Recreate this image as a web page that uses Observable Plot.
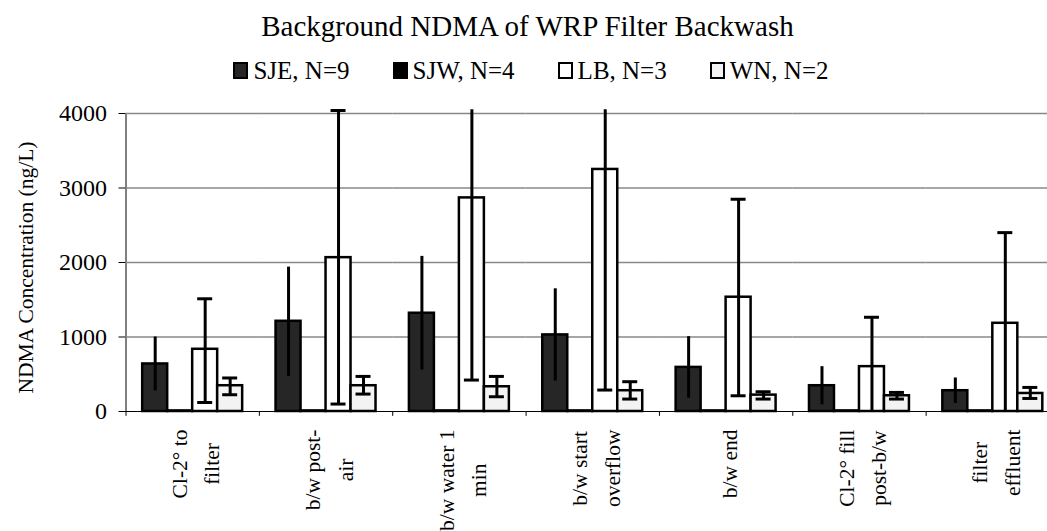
<!DOCTYPE html>
<html>
<head>
<meta charset="utf-8">
<script src="https://cdn.jsdelivr.net/npm/d3@7"></script>
<script src="https://cdn.jsdelivr.net/npm/@observablehq/plot@0.6"></script>
<style>
  html, body { margin: 0; padding: 0; background: #fff; }
  body { width: 1047px; height: 531px; overflow: hidden; font-family: "Liberation Serif", serif; color: #000; }
  #title { height: 41px; padding-top: 4px; padding-left: 8px; line-height: 45px; font-size: 29px; text-align: center; white-space: nowrap; }
  #legend { height: 42px; padding-top: 3px; padding-left: 15px; line-height: 45px; font-size: 25px; display: flex; justify-content: center; gap: 43px; white-space: nowrap; }
  #legend .item { display: inline-block; }
  #legend .sw { display: inline-block; width: 15px; height: 17px; box-sizing: border-box; border: 2px solid #000; vertical-align: baseline; margin-right: 5px; }
  svg { display: block; }
  svg text { font-family: "Liberation Serif", serif !important; }
</style>
</head>
<body>
<div id="title">Background NDMA of WRP Filter Backwash</div>
<div id="legend"></div>
<script>
// ---- data ----
const categories = ["Cl-2° to\nfilter", "b/w post-\nair", "b/w water 1\nmin", "b/w start\noverflow", "b/w end", "Cl-2° fill\npost-b/w", "filter\neffluent"];
const seriesNames = ["SJE", "SJW", "LB", "WN"];
const seriesN = [9, 4, 3, 2];
const seriesColors = ["#262626", "#000000", "#ffffff", "#f3f3f3"];
const seriesCaps = [false, false, true, true];

const sjeMean = [638, 1211, 1319, 1028, 592, 346, 279];
const sjeLow  = [276, 470, 556, 409, 179, 90, 108];
const sjeHigh = [1000, 1938, 2082, 1647, 1005, 602, 450];

const sjwMean = [8, 8, 8, 8, 8, 8, 8];

const lbMean = [835, 2065, 2867, 3249, 1534, 602, 1184];
const lbLow  = [121, 100, 422, 288, 211, 0, 0];
const lbHigh = [1513, 4040, 4050, 4050, 2849, 1265, 2401];

const wnMean = [346, 346, 332, 279, 220, 211, 242];
const wnLow  = [225, 234, 198, 167, 167, 167, 175];
const wnHigh = [450, 471, 471, 400, 265, 256, 323];

const yTicks = [0, 1000, 2000, 3000, 4000];
const gridTicks = [1000, 2000, 3000, 4000];
const yTitle = "NDMA Concentration (ng/L)";
const clipTop = 4050; // error bars running past the plot top (no cap shown)

// ---- tidy table ----
const means = [sjeMean, sjwMean, lbMean, wnMean];
const lows = [sjeLow, null, lbLow, wnLow];
const highs = [sjeHigh, null, lbHigh, wnHigh];
const rows = [];
seriesNames.forEach((s, si) => {
  categories.forEach((c, ci) => {
    rows.push({
      cat: c, series: s, value: means[si][ci],
      lo: lows[si] ? lows[si][ci] : null,
      hi: highs[si] ? highs[si][ci] : null,
      cap: seriesCaps[si]
    });
  });
});
const errRows = rows.filter(d => d.hi != null);
const capTop = errRows.filter(d => d.cap && d.hi < clipTop);
const capBottom = errRows.filter(d => d.cap && d.lo > 0);

// ---- legend (HTML) ----
const legend = document.getElementById("legend");
seriesNames.forEach((s, i) => {
  const item = document.createElement("span");
  item.className = "item";
  const sw = document.createElement("span");
  sw.className = "sw";
  sw.style.background = seriesColors[i];
  item.appendChild(sw);
  item.appendChild(document.createTextNode(`${s}, N=${seriesN[i]}`));
  legend.appendChild(item);
});

// ---- layout ----
const FONT = '"Liberation Serif", serif';
const W = 1047, H = 441;
const mL = 125.5, mR = -12, mT = 23, mB = 120;
const padOuter = 0.668;
const facetBand = (W - mL - mR) / categories.length;
const step = facetBand / (seriesNames.length + 2 * padOuter);
const edgeDx = -(padOuter * step + step / 2);

// category labels: lines centred on each other, block starting just below the axis
const labelSize = 21.5;
const labelGap = 18; // px from axis to the top of each label block
const ctx = document.createElement("canvas").getContext("2d");
ctx.font = `${labelSize}px "Liberation Serif"`;
const labelLen = categories.map(c => d3.max(c.split("\n"), l => ctx.measureText(l).width));

const labelMarks = categories.map((c, i) =>
  Plot.text([c], {
    fx: d => d, text: d => d, frameAnchor: "bottom", rotate: -90,
    textAnchor: "middle", lineAnchor: "middle", lineHeight: 1.52,
    fontSize: labelSize, fontFamily: FONT, dy: labelGap + labelLen[i] / 2
  })
);

const chart = Plot.plot({
  width: W, height: H,
  marginTop: mT, marginBottom: mB, marginLeft: mL, marginRight: mR,
  style: { fontFamily: FONT, fontSize: "24px", color: "#000", background: "transparent" },
  fx: { domain: categories, padding: 0, round: false, axis: null, label: null },
  x: { domain: seriesNames, paddingInner: 0, paddingOuter: padOuter, round: false, axis: null, label: null },
  y: { domain: [0, 4000], ticks: yTicks, tickFormat: d => String(d), tickSize: 7, tickPadding: 12, label: null, line: true },
  color: { domain: seriesNames, range: seriesColors },
  marks: [
    Plot.ruleY(gridTicks, { stroke: "#888", strokeWidth: 1.3 }),
    Plot.barY(rows, { fx: "cat", x: "series", y: "value", fill: "series", stroke: "#000", strokeWidth: 2.5 }),
    Plot.ruleX(errRows, { fx: "cat", x: "series", y1: "lo", y2: "hi", stroke: "#000", strokeWidth: 3 }),
    Plot.tickY(capTop, { fx: "cat", x: "series", y: "hi", stroke: "#000", strokeWidth: 3, insetLeft: 5, insetRight: 5 }),
    Plot.tickY(capBottom, { fx: "cat", x: "series", y: "lo", stroke: "#000", strokeWidth: 3, insetLeft: 5, insetRight: 5 }),
    Plot.ruleY([0], { stroke: "#000", strokeWidth: 1 }),
    Plot.ruleX([seriesNames[0]], { x: d => d, y1: 0, y2: -65, dx: edgeDx, stroke: "#000", strokeWidth: 1 }),
    ...labelMarks,
    Plot.text([categories[0]], { fx: d => d, text: () => yTitle, frameAnchor: "left", rotate: -90, textAnchor: "middle", dx: -100, dy: 5, fontSize: 21.5, fontFamily: FONT })
  ]
});
document.body.appendChild(chart);
</script>
</body>
</html>
